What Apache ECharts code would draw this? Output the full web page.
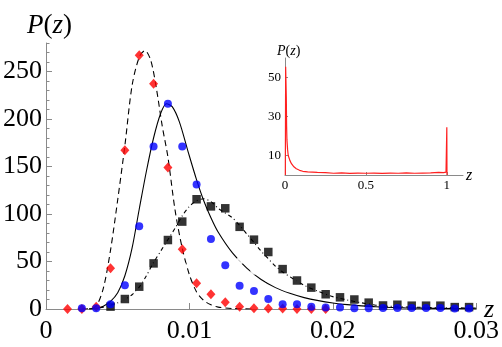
<!DOCTYPE html>
<html>
<head>
<meta charset="utf-8">
<script src="https://cdn.jsdelivr.net/npm/echarts@6/dist/echarts.min.js"></script>
<style>
  html, body { margin: 0; padding: 0; background: #fff; }
  #chart { width: 502px; height: 347px; }
</style>
</head>
<body>
<div id="chart"></div>
<script>
// marker data
const redX = [0.0015, 0.0025, 0.0035, 0.0045, 0.0055, 0.0065, 0.0075, 0.0085, 0.0095, 0.0105, 0.0115, 0.0125, 0.0135, 0.0145, 0.0155, 0.0165, 0.0175, 0.0185, 0.0195];
const redY = [0, 0, 2.5, 43, 167, 267, 237, 149, 63, 27, 15.5, 7, 2.5, 0.7, 0.5, 0.5, 0, 0, 0];

const blueX = [0.0025, 0.0035, 0.0045, 0.0055, 0.0065, 0.0075, 0.0085, 0.0095, 0.0105, 0.0115, 0.0125, 0.0135, 0.0145, 0.0155, 0.0165, 0.0175, 0.0185, 0.0195, 0.0205, 0.0215, 0.0225, 0.0235, 0.0245, 0.0255, 0.0265, 0.0275, 0.0285, 0.0295];
const blueY = [0.7, 0.7, 5, 25, 87, 171, 216, 171, 131, 73.7, 46, 24.5, 19, 10.5, 5, 5, 2.5, 1.5, 1.5, 0.8, 0.8, 1, 1, 1, 1, 1, 0.5, 0.5];

const blackX = [0.0045, 0.0055, 0.0065, 0.0075, 0.0085, 0.0095, 0.0105, 0.0115, 0.0125, 0.0135, 0.0145, 0.0155, 0.0165, 0.0175, 0.0185, 0.0195, 0.0205, 0.0215, 0.0225, 0.0235, 0.0245, 0.0255, 0.0265, 0.0275, 0.0285, 0.0295];
const blackY = [2.5, 10.5, 23.5, 48, 72.6, 92, 115.5, 108, 106, 86.5, 73, 60, 42, 30, 22.5, 15.5, 12.3, 10, 6.7, 3.7, 4.5, 3.5, 3.5, 3.5, 2, 2];

const openX = [0.0055, 0.0065, 0.0075, 0.0085, 0.0095, 0.0105, 0.0115, 0.0125, 0.0135, 0.0145, 0.0155, 0.0165, 0.0175, 0.0185, 0.0195, 0.0205, 0.0215, 0.0225, 0.0235, 0.0245, 0.0255, 0.0265, 0.0275, 0.0285, 0.0295];
const openY = [8, 17.5, 31.6, 45.6, 46, 54, 54.4, 51.5, 50.5, 40, 32, 33.5, 30, 32, 27, 25, 26.5, 23, 23, 20.5, 17.5, 19, 17.5, 16.5, 12];

// fitted curves
const dashX = [0.0025, 0.003, 0.0035, 0.004, 0.0045, 0.005, 0.0055, 0.006, 0.0065, 0.0069, 0.0073, 0.0077, 0.0081, 0.0085, 0.009, 0.0095, 0.01, 0.0105, 0.011, 0.0115, 0.012, 0.013, 0.0145];
const dashY = [0, 0.3, 3, 22, 62, 115, 172, 235, 265, 272, 262, 232, 193, 160, 104, 64, 36, 18, 9, 4.5, 2, 0.5, 0];

const solidX = [0.003, 0.0035, 0.004, 0.0045, 0.005, 0.0055, 0.006, 0.0065, 0.007, 0.0075, 0.008, 0.0084, 0.0088, 0.0093, 0.0099, 0.0105, 0.011, 0.0115, 0.012, 0.013, 0.014, 0.015, 0.016, 0.017, 0.018, 0.019, 0.02, 0.021, 0.022, 0.023, 0.025, 0.03];
const solidY = [0, 0.5, 3, 8, 17, 35, 64, 105, 145, 180, 206, 216, 213, 197, 166, 136, 114, 96, 81, 59, 43, 31, 22.5, 16.5, 12, 8.8, 6.4, 4.6, 3.3, 2.3, 1.2, 0.2];

const dotDashX = [0.003, 0.004, 0.005, 0.0055, 0.006, 0.0065, 0.007, 0.0075, 0.008, 0.0085, 0.009, 0.0095, 0.01, 0.0105, 0.011, 0.0115, 0.012, 0.0125, 0.013, 0.0135, 0.014, 0.0145, 0.015, 0.0155, 0.016, 0.0165, 0.017, 0.018, 0.019, 0.02, 0.021, 0.022, 0.023, 0.024, 0.026, 0.03];
const dotDashY = [0, 2, 6.5, 10, 15, 23, 35, 49, 61, 73, 85, 98, 108, 114, 116, 113, 106, 101, 96, 88, 79, 70, 61, 53, 45, 39, 34, 25, 18.5, 13, 9.5, 6.5, 4, 2.8, 1.8, 1];

// inset: full range distribution
const insetX = [0.002, 0.004, 0.008, 0.01, 0.012, 0.016, 0.02, 0.03, 0.04, 0.055, 0.07, 0.09, 0.11, 0.14, 0.17, 0.2, 0.25, 0.3, 0.35, 0.4, 0.45, 0.5, 0.55, 0.6, 0.65, 0.7, 0.75, 0.8, 0.85, 0.9, 0.95, 0.98, 0.995, 0.999, 1.0, 1.001];
const insetY = [0, 55.5, 40, 25, 18, 13, 10, 7.5, 5.8, 4.2, 3.2, 2.4, 1.9, 1.6, 1.5, 1.3, 1.2, 0.9, 1.1, 0.8, 1.0, 0.9, 1.0, 0.8, 1.0, 0.9, 1.1, 0.9, 1.0, 1.1, 1.3, 1.2, 1.5, 1.2, 24.5, 0];

const mainYTicks = [0, 50, 100, 150, 200, 250];
const insetYTicks = [10, 30, 50];
const insetXTicks = [0, 0.5, 1];

const zip = (xs, ys) => xs.map((x, i) => [x, ys[i]]);
const SERIF = 'Liberation Serif, Times New Roman, serif';
const AXIS = '#8a8a8a';

const chart = echarts.init(document.getElementById('chart'), null, { renderer: 'canvas' });

const richPz = size => ({
  i: { fontFamily: SERIF, fontStyle: 'italic', fontWeight: 'normal', fontSize: size, color: '#000' },
  r: { fontFamily: SERIF, fontWeight: 'normal', fontSize: size, color: '#000' }
});

const option = {
  animation: false,
  backgroundColor: '#fff',
  title: [
    { text: '{i|P}{r|(}{i|z}{r|)}', left: 22, top: 7, textStyle: { fontWeight: 'normal', rich: richPz(27) } },
    { text: '{i|P}{r|(}{i|z}{r|)}', left: 272, top: 39, textStyle: { fontWeight: 'normal', rich: richPz(14) } }
  ],
  graphic: [
    { type: 'text', left: 484, top: 297, style: { text: 'z', fontFamily: SERIF, fontStyle: 'italic', fontSize: 26, fill: '#000' } },
    { type: 'text', left: 466, top: 168, style: { text: 'z', fontFamily: SERIF, fontStyle: 'italic', fontSize: 16, fill: '#000' } }
  ],
  grid: [
    { left: 46, right: 25, top: 43, bottom: 38 },
    { left: 285, right: 39, top: 58, bottom: 172 }
  ],
  xAxis: [
    {
      gridIndex: 0, type: 'value', min: 0, max: 0.03, interval: 0.01,
      axisLine: { lineStyle: { color: AXIS } },
      axisTick: { inside: true, length: 6, lineStyle: { color: AXIS } },
      axisLabel: { fontFamily: SERIF, fontSize: 26, color: '#000', margin: 9,
        formatter: v => v === 0 ? '0' : v.toFixed(2) },
      splitLine: { show: false }
    },
    {
      gridIndex: 1, type: 'value', min: 0, max: 1.1, interval: 0.5,
      axisLine: { lineStyle: { color: AXIS } },
      axisTick: { inside: true, length: 3, lineStyle: { color: AXIS }, customValues: insetXTicks },
      axisLabel: { fontFamily: SERIF, fontSize: 13, color: '#000', margin: 4, customValues: insetXTicks,
        formatter: v => (v === 0 || v === 0.5 || v === 1) ? String(v) : '' },
      splitLine: { show: false }
    }
  ],
  yAxis: [
    {
      gridIndex: 0, type: 'value', min: 0, max: 280, interval: 50,
      axisLine: { show: true, lineStyle: { color: AXIS } },
      axisTick: { show: true, inside: true, length: 6, lineStyle: { color: AXIS }, customValues: mainYTicks },
      axisLabel: { fontFamily: SERIF, fontSize: 26, color: '#000', margin: 4, customValues: mainYTicks,
        formatter: v => v % 50 === 0 ? String(v) : '' },
      splitLine: { show: false }
    },
    {
      // minor ticks every 10
      gridIndex: 0, type: 'value', min: 0, max: 280, interval: 10, position: 'left',
      axisLine: { show: false },
      axisTick: { show: true, inside: true, length: 3.5, lineStyle: { color: AXIS } },
      axisLabel: { show: false },
      splitLine: { show: false }
    },
    {
      gridIndex: 1, type: 'value', min: 0, max: 60, interval: 10,
      axisLine: { show: true, lineStyle: { color: AXIS } },
      axisTick: { show: true, inside: true, length: 3, lineStyle: { color: AXIS }, customValues: insetYTicks },
      axisLabel: { fontFamily: SERIF, fontSize: 13, color: '#000', margin: 4, customValues: insetYTicks,
        formatter: v => (v === 10 || v === 30 || v === 50) ? String(v) : '' },
      splitLine: { show: false }
    }
  ],
  series: [
    {
      type: 'line', xAxisIndex: 0, yAxisIndex: 0, data: zip(dashX, dashY),
      smooth: 0.3, showSymbol: false, z: 2,
      lineStyle: { color: '#000', width: 1.1, type: [6, 4] }
    },
    {
      type: 'line', xAxisIndex: 0, yAxisIndex: 0, data: zip(solidX, solidY),
      smooth: 0.3, showSymbol: false, z: 2,
      lineStyle: { color: '#000', width: 1.1 }
    },
    {
      type: 'line', xAxisIndex: 0, yAxisIndex: 0, data: zip(dotDashX, dotDashY),
      smooth: 0.3, showSymbol: false, z: 2,
      lineStyle: { color: '#000', width: 1.1, type: [4, 3, 1, 3] }
    },
    {
      type: 'scatter', xAxisIndex: 0, yAxisIndex: 0, data: zip(openX, openY),
      symbol: 'emptyCircle', symbolSize: 5.5, z: 3,
      itemStyle: { color: '#fff', borderColor: '#444', borderWidth: 1 }
    },
    {
      type: 'scatter', xAxisIndex: 0, yAxisIndex: 0, data: zip(redX, redY),
      symbol: 'diamond', symbolSize: [9, 10], z: 4,
      itemStyle: { color: '#ff0000' }
    },
    {
      type: 'scatter', xAxisIndex: 0, yAxisIndex: 0, data: zip(blackX, blackY),
      symbol: 'rect', symbolSize: 8.5, z: 5,
      itemStyle: { color: '#000' }
    },
    {
      type: 'scatter', xAxisIndex: 0, yAxisIndex: 0, data: zip(blueX, blueY),
      symbol: 'circle', symbolSize: 8, z: 6,
      itemStyle: { color: '#0000ff' }
    },
    {
      type: 'line', xAxisIndex: 1, yAxisIndex: 2, data: zip(insetX, insetY),
      showSymbol: false, z: 2,
      lineStyle: { color: '#ff2020', width: 1.2 }
    }
  ]
};

chart.setOption(option);
</script>
</body>
</html>
